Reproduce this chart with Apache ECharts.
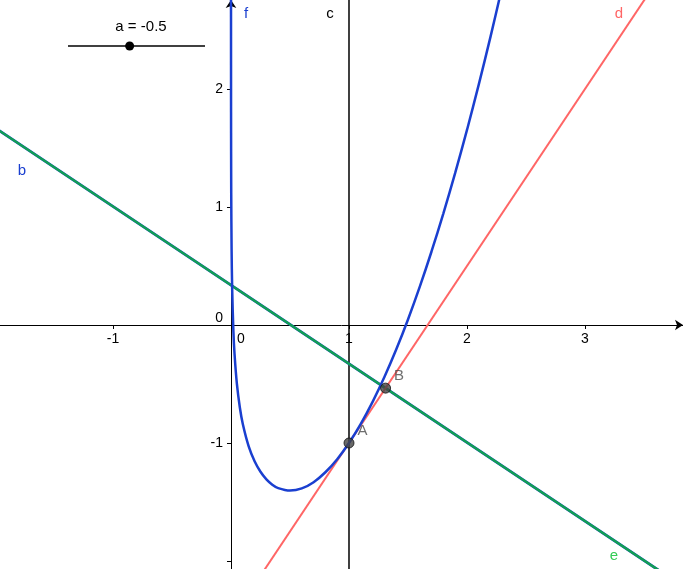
<!DOCTYPE html>
<html>
<head>
<meta charset="utf-8">
<script src="https://cdn.jsdelivr.net/npm/echarts@6/dist/echarts.min.js"></script>
<style>html,body{margin:0;padding:0;background:#fff}#chart{width:683px;height:569px}</style>
</head>
<body>
<div id="chart"></div>
<script>
// ---- data ----
const xRange = [-1.9576, 3.8305];
const yRange = [-2.0678, 2.7542];
const xTickValues = [-1, 0, 1, 2, 3];
const xTickLabels = [-1, 0, 1, 2, 3];
const yTickValues = [-2, -1, 0, 1, 2];
const yTickLabels = [-1, 0, 1, 2];
// curve f (a = -0.5)
const fX = [0.00005, 0.0001, 0.0005, 0.001, 0.002, 0.005, 0.01, 0.02, 0.03, 0.05, 0.075, 0.1, 0.15, 0.2, 0.25, 0.3, 0.35, 0.4, 0.5, 0.6, 0.7, 0.8, 0.9, 1.0, 1.1, 1.2, 1.3, 1.4, 1.5, 1.6, 1.7, 1.8, 1.9, 2.0, 2.1, 2.2, 2.3];
const fY = [2.952, 2.605, 1.80, 1.454, 1.107, 0.649, 0.303, -0.044, -0.246, -0.500, -0.699, -0.839, -1.029, -1.155, -1.244, -1.308, -1.353, -1.382, -1.403, -1.385, -1.332, -1.248, -1.137, -1.0, -0.838, -0.651, -0.441, -0.208, 0.047, 0.325, 0.625, 0.946, 1.289, 1.653, 2.039, 2.446, 2.874];
// straight lines (end points outside the view)
const lineC = [[1, -3], [1, 3]];
const lineD = [[-1, -4], [4.5, 4.25]];
const lineE = [[-2.5, 2.005], [4.5, -2.662]];
const lineB = [[-2.5, 2.005], [4.5, -2.662]];
const pointA = [1, -1];
const pointB = [1.31, -0.535];
const sliderName = 'a';
const sliderValue = -0.5;
const sliderMin = -5;
const sliderMax = 5;

const FONT = 'Liberation Sans, Arial, sans-serif';
const BLUE = '#1a3fd0';
const RED = '#ff6666';
const GREEN = '#12a052';

const W = 683, H = 569;
const chart = echarts.init(document.getElementById('chart'), null, {renderer: 'canvas'});

const fData = fX.map((x, i) => [x, fY[i]]);

// place axes at the origin of the value ranges
const originX = (0 - xRange[0]) / (xRange[1] - xRange[0]) * W;
const originY = (yRange[1] - 0) / (yRange[1] - yRange[0]) * H;

const sliderX0 = 68, sliderX1 = 205, sliderY = 46;
const knobX = sliderX0 + (sliderValue - sliderMin) / (sliderMax - sliderMin) * (sliderX1 - sliderX0);

const option = {
  animation: false,
  backgroundColor: '#fff',
  grid: {left: 0, right: 0, top: 0, bottom: 0, containLabel: false, outerBoundsMode: 'none'},
  xAxis: {
    type: 'value', min: xRange[0], max: xRange[1], position: 'bottom',
    offset: -(H - originY),
    splitLine: {show: false},
    axisLine: {onZero: false, lineStyle: {color: '#000', width: 1}, symbol: ['none', 'arrow'], symbolSize: [8, 8]},
    axisTick: {show: true, length: 4, lineStyle: {color: '#000'}, customValues: xTickValues.filter(v => v !== 0)},
    axisLabel: {
      customValues: xTickLabels, margin: 7, color: '#000', fontSize: 14, fontFamily: FONT,
      formatter: v => v === 0 ? '{z|0}' : String(v),
      rich: {z: {padding: [0, 0, 0, 20], fontSize: 14, fontFamily: FONT, color: '#000'}}
    }
  },
  yAxis: {
    type: 'value', min: yRange[0], max: yRange[1], position: 'left',
    offset: -originX,
    splitLine: {show: false},
    axisLine: {onZero: false, lineStyle: {color: '#000', width: 1}, symbol: ['none', 'arrow'], symbolSize: [8, 8]},
    axisTick: {show: true, length: 4, lineStyle: {color: '#000'}, customValues: yTickValues.filter(v => v !== 0)},
    axisLabel: {
      customValues: yTickLabels, margin: 8, color: '#000', fontSize: 14, fontFamily: FONT,
      formatter: v => v === 0 ? '{z|0}' : String(v),
      rich: {z: {padding: [0, 0, 14, 0], fontSize: 14, fontFamily: FONT, color: '#000'}}
    }
  },
  series: [
    {type: 'line', data: lineC, symbol: 'none', lineStyle: {color: '#000', width: 1.5}, z: 3},
    {type: 'line', data: lineB, symbol: 'none', lineStyle: {color: BLUE, width: 2.8}, z: 3},
    {type: 'line', data: lineE, symbol: 'none', lineStyle: {color: GREEN, width: 2.4}, z: 4},
    {type: 'line', data: lineD, symbol: 'none', lineStyle: {color: RED, width: 2}, z: 5},
    {type: 'line', data: fData, symbol: 'none', smooth: 0.3, lineStyle: {color: BLUE, width: 2.5}, z: 6},
    {
      type: 'scatter', z: 10, symbolSize: 10,
      itemStyle: {color: '#444', borderColor: '#111', borderWidth: 1},
      data: [
        {value: pointA, label: {show: true, formatter: 'A', position: 'right', offset: [-2, -12]}},
        {value: pointB, label: {show: true, formatter: 'B', position: 'right', offset: [-2, -12]}}
      ],
      label: {color: '#4a4a4a', fontSize: 15, fontFamily: FONT}
    }
  ],
  graphic: [
    {type: 'line', shape: {x1: sliderX0, y1: sliderY, x2: sliderX1, y2: sliderY}, style: {stroke: '#000', lineWidth: 1.5}},
    {type: 'circle', shape: {cx: knobX, cy: sliderY, r: 4.5}, style: {fill: '#000'}},
    {type: 'text', x: 141, y: 27, style: {text: sliderName + ' = ' + sliderValue, font: '15px ' + FONT, fill: '#000', align: 'center', verticalAlign: 'middle'}},
    {type: 'text', x: 246, y: 14, style: {text: 'f', font: '15px ' + FONT, fill: BLUE, align: 'center', verticalAlign: 'middle'}},
    {type: 'text', x: 330, y: 14, style: {text: 'c', font: '15px ' + FONT, fill: '#000', align: 'center', verticalAlign: 'middle'}},
    {type: 'text', x: 619, y: 14, style: {text: 'd', font: '15px ' + FONT, fill: RED, align: 'center', verticalAlign: 'middle'}},
    {type: 'text', x: 22, y: 171, style: {text: 'b', font: '15px ' + FONT, fill: BLUE, align: 'center', verticalAlign: 'middle'}},
    {type: 'text', x: 614, y: 556, style: {text: 'e', font: '15px ' + FONT, fill: '#33cc55', align: 'center', verticalAlign: 'middle'}}
  ]
};
chart.setOption(option);
</script>
</body>
</html>
